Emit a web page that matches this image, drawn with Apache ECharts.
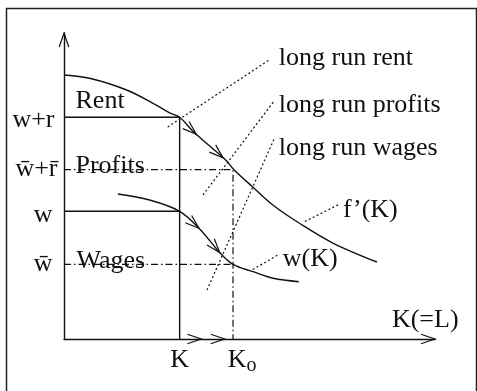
<!DOCTYPE html>
<html>
<head>
<meta charset="utf-8">
<script src="https://cdn.jsdelivr.net/npm/echarts@6/dist/echarts.min.js"></script>
<style>
  html, body { margin: 0; padding: 0; background: #fff; }
  #chart { width: 477px; height: 391px; }
</style>
</head>
<body>
<div id="chart"></div>
<script>
// ---- Equilibrium levels (capital on x, returns on y) ----
const xTicks = [3.117, 4.556];                 // K, K_o
const xTickLabels = ['K', 'K'];
const xTickSubs = ['', 'o'];
const yTicks = [7.245, 5.533, 4.173, 2.441];   // w+r, w̄+r̄, w, w̄
const yTickLabels = ['w+r', 'w\u0304+r\u0304', 'w', 'w\u0304'];

// Marginal product of capital f'(K)
const fPrimeK = [
  [0, 8.627], [0.769, 8.497], [1.687, 8.137], [2.389, 7.712], [2.848, 7.386],
  [3.117, 7.245], [3.468, 6.797], [3.927, 6.307], [4.386, 5.817], [4.575, 5.54],
  [5.088, 4.967], [5.628, 4.379], [6.356, 3.775], [7.247, 3.137], [8.435, 2.516]
];
// Wage schedule w(K)
const wOfK = [
  [1.452, 4.739], [2.308, 4.542], [3.117, 4.173], [3.657, 3.595], [4.197, 2.827],
  [4.556, 2.441], [5.096, 2.199], [5.636, 1.984], [6.329, 1.873]
];

// Dotted leader lines from the annotations to the regions / curves
const leaders = [
  [[2.794, 6.928], [5.547, 9.134]],
  [[3.746, 4.706], [5.663, 7.778]],
  [[3.854, 1.601], [5.663, 6.536]],
  [[6.491, 3.840], [7.409, 4.395]],
  [[5.088, 2.271], [5.789, 2.761]]
];

// Arrowheads showing the adjustment path
const fArrowsAt = [3.568, 4.286];
const wArrowsAt = [3.638, 4.197];
const kArrowsAt = [3.703, 4.332];

// Annotation texts and their anchors (left, baseline)
const notes = ['long run rent', 'long run profits', 'long run wages', 'Rent', 'Profits', 'Wages', 'f\u2019(K)', 'w(K)', 'K(=L)'];
const noteX = [5.789, 5.789, 5.789, 0.310, 0.310, 0.337, 7.517, 5.897, 8.839];
const noteY = [8.922, 7.386, 5.980, 7.516, 5.392, 2.288, 3.954, 2.353, 0.359];

const X_MAX = 10, Y_MAX = 10;
const FONT_FAMILY = '"Liberation Serif", "Times New Roman", serif';
const INK = '#111';

function interpAt(path, x) {
  for (let i = 0; i < path.length - 1; i++) {
    const a = path[i], b = path[i + 1];
    if (x >= a[0] && x <= b[0]) {
      const t = (x - a[0]) / (b[0] - a[0]);
      return a[1] + t * (b[1] - a[1]);
    }
  }
  return path[path.length - 1][1];
}

const arrowPaths = [fPrimeK, wOfK, [[0, 0], [X_MAX, 0]], [[0, 0], [0, Y_MAX]]];
const arrowData = []
  .concat(fArrowsAt.map(x => [x, interpAt(fPrimeK, x), 0]))
  .concat(wArrowsAt.map(x => [x, interpAt(wOfK, x), 1]))
  .concat(kArrowsAt.map(x => [x, 0, 2]))
  .concat([[X_MAX, 0, 2], [0, Y_MAX, 3]]);

function segDist(p, a, b) {
  const vx = b[0] - a[0], vy = b[1] - a[1];
  let t = ((p[0] - a[0]) * vx + (p[1] - a[1]) * vy) / (vx * vx + vy * vy);
  t = Math.max(0, Math.min(1, t));
  return Math.hypot(p[0] - (a[0] + t * vx), p[1] - (a[1] + t * vy));
}

function renderChevron(params, api) {
  const path = arrowPaths[api.value(2)];
  const tip = api.coord([api.value(0), api.value(1)]);
  let best = null, bestD = Infinity;
  for (let i = 0; i < path.length - 1; i++) {
    const a = api.coord(path[i]), b = api.coord(path[i + 1]);
    const d = segDist(tip, a, b);
    if (d < bestD) { bestD = d; best = [a, b]; }
  }
  let dx = best[1][0] - best[0][0], dy = best[1][1] - best[0][1];
  const len = Math.hypot(dx, dy);
  dx /= len; dy /= len;
  const L = 14, S = 4.8;
  const bx = tip[0] - dx * L, by = tip[1] - dy * L;
  const nx = -dy, ny = dx;
  return {
    type: 'polyline',
    shape: { points: [[bx + nx * S, by + ny * S], tip, [bx - nx * S, by - ny * S]] },
    style: { stroke: INK, lineWidth: 1.2, fill: null }
  };
}

// Text items: kind 0 = annotation, 1 = y tick label, 2 = x tick label
const textData = []
  .concat(notes.map((t, i) => [noteX[i], noteY[i], 0, i]))
  .concat(yTicks.map((v, i) => [0, v, 1, i]))
  .concat(xTicks.map((v, i) => [v, 0, 2, i]));

// pixel layout of the tick labels
const yLabelRight = [-9.5, -6.5, -11.5, -11.5];
const yLabelBase = [10.4, 7.0, 12.0, 7.4];
const FS = 26;

function txt(x, yBase, text, align, size) {
  const s = size || FS;
  return {
    type: 'text', x: x, y: yBase - 0.3 * s,
    style: { text: text, fill: INK, font: s + 'px ' + FONT_FAMILY, align: align, verticalAlign: 'middle' }
  };
}

function renderText(params, api) {
  const p = api.coord([api.value(0), api.value(1)]);
  const kind = api.value(2), i = api.value(3);
  if (kind === 0) return txt(p[0], p[1], notes[i], 'left');
  if (kind === 1) return txt(p[0] + yLabelRight[i], p[1] + yLabelBase[i], yTickLabels[i], 'right');
  // x tick labels
  const base = p[1] + 29;
  if (!xTickSubs[i]) return txt(p[0], base, xTickLabels[i], 'center');
  return {
    type: 'group',
    children: [
      txt(p[0] - 5.3, base, xTickLabels[i], 'left'),
      txt(p[0] + 13.5, base + 4, xTickSubs[i], 'left', 20)
    ]
  };
}

function lineSeries(data, type, smooth) {
  return {
    type: 'line', data: data, symbol: 'none', silent: true, smooth: smooth || false,
    lineStyle: { color: INK, width: type === 'solid' ? 1.4 : 1.2, type: type },
    z: 2
  };
}

const DASH_DOT = [7, 3, 1.5, 3];
const DOTTED = [2, 2.4];

const series = [
  lineSeries(fPrimeK, 'solid', 0.35),
  lineSeries(wOfK, 'solid', 0.35),
  lineSeries([[0, yTicks[0]], [xTicks[0], yTicks[0]], [xTicks[0], 0]], 'solid'),
  lineSeries([[0, yTicks[2]], [xTicks[0], yTicks[2]]], 'solid'),
  lineSeries([[0, yTicks[1]], [xTicks[1], yTicks[1]], [xTicks[1], 0]], DASH_DOT),
  lineSeries([[0, yTicks[3]], [xTicks[1], yTicks[3]]], DASH_DOT)
].concat(leaders.map(seg => lineSeries(seg, DOTTED)))
 .concat([
  {
    type: 'custom', coordinateSystem: 'cartesian2d', renderItem: renderChevron,
    data: arrowData, clip: false, silent: true, z: 3, encode: { x: 0, y: 1 }
  },
  {
    type: 'custom', coordinateSystem: 'cartesian2d', renderItem: renderText,
    data: textData, clip: false, silent: true, z: 4, encode: { x: 0, y: 1 }
  }
]);

const axisCommon = {
  type: 'value', min: 0, interval: 1,
  axisLine: { show: true, lineStyle: { color: INK, width: 1.4 } },
  axisTick: { show: false }, axisLabel: { show: false }, splitLine: { show: false }
};

const chart = echarts.init(document.getElementById('chart'), null, { renderer: 'canvas' });
chart.setOption({
  animation: false,
  backgroundColor: '#fff',
  grid: { left: 64, right: 42, top: 33, bottom: 52 },
  xAxis: Object.assign({}, axisCommon, { max: X_MAX }),
  yAxis: Object.assign({}, axisCommon, { max: Y_MAX }),
  graphic: [{
    type: 'rect', z: 0, silent: true,
    shape: { x: 6.5, y: 8.5, width: 470, height: 400 },
    style: { fill: null, stroke: '#222', lineWidth: 1.5 }
  }],
  series: series
});
</script>
</body>
</html>
